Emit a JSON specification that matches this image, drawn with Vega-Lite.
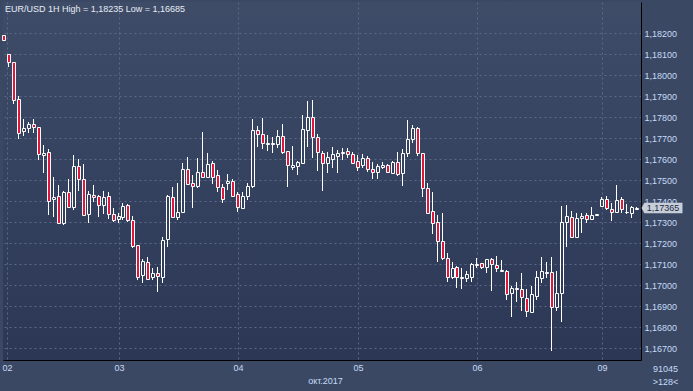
{
"$schema": "https://vega.github.io/schema/vega-lite/v6.json",
"width": 638, "height": 358,
"autosize": "none",
"padding": {"left": 3, "top": 2, "right": 52, "bottom": 31},
"background": "#3b4864",
"view": {"stroke": null, "fill": {"gradient": "linear", "x1": 0, "y1": 0, "x2": 0, "y2": 1, "stops": [{"offset": 0, "color": "#3f4c68"}, {"offset": 0.5, "color": "#35425f"}, {"offset": 1, "color": "#2b3754"}]}},
"config": {"font": "Liberation Sans",
  "locale": {"number": {"decimal": ",", "thousands": " ", "grouping": [3], "currency": ["", ""]}},
  "axis": {"zindex": 0, "ticks": false, "labelPadding": 3, "labelFont": "Liberation Sans", "labelFontSize": 9, "labelColor": "#c6dbf6",
    "domainColor": "#000000", "domainWidth": 1, "grid": true, "gridColor": "#5a6889", "gridDash": [2, 3], "gridWidth": 1,
    "titleFont": "Liberation Sans", "titleFontSize": 9, "titleFontWeight": "normal", "titleColor": "#c6dbf6",
    "labelFlush": false, "labelOverlap": false, "labelBound": false}},
"title": {"text": "EUR/USD 1H High = 1,18235 Low = 1,16685", "anchor": "start", "frame": "group", "orient": "top", "offset": -16, "dx": 2, "baseline": "middle", "font": "Liberation Sans", "fontSize": 9, "fontWeight": "normal", "color": "#e6ecf5"},
"data": {"values": [
{"i":0,"o":1.18189,"h":1.1819,"l":1.18162,"c":1.18167},
{"i":1,"o":1.18099,"h":1.18102,"l":1.1804,"c":1.1806},
{"i":2,"o":1.1806,"h":1.18062,"l":1.1786,"c":1.1788},
{"i":3,"o":1.17884,"h":1.17899,"l":1.17694,"c":1.17725},
{"i":4,"o":1.17732,"h":1.1779,"l":1.1771,"c":1.17746},
{"i":5,"o":1.17746,"h":1.17776,"l":1.17722,"c":1.17765},
{"i":6,"o":1.17765,"h":1.1779,"l":1.17722,"c":1.17751},
{"i":7,"o":1.17751,"h":1.17752,"l":1.17595,"c":1.17622},
{"i":8,"o":1.17618,"h":1.17667,"l":1.17533,"c":1.17627},
{"i":9,"o":1.17632,"h":1.17648,"l":1.17333,"c":1.17401},
{"i":10,"o":1.17408,"h":1.17516,"l":1.17322,"c":1.17418},
{"i":11,"o":1.17422,"h":1.17476,"l":1.17293,"c":1.17294},
{"i":12,"o":1.17295,"h":1.17449,"l":1.17286,"c":1.17443},
{"i":13,"o":1.17441,"h":1.17505,"l":1.17365,"c":1.1737},
{"i":14,"o":1.17373,"h":1.1762,"l":1.17357,"c":1.17567},
{"i":15,"o":1.17567,"h":1.176,"l":1.17449,"c":1.17503},
{"i":16,"o":1.17503,"h":1.17576,"l":1.17329,"c":1.17335},
{"i":17,"o":1.17338,"h":1.17449,"l":1.17294,"c":1.17433},
{"i":18,"o":1.17427,"h":1.17476,"l":1.17395,"c":1.17418},
{"i":19,"o":1.17424,"h":1.17429,"l":1.17322,"c":1.17381},
{"i":20,"o":1.1738,"h":1.17449,"l":1.17338,"c":1.17418},
{"i":21,"o":1.17422,"h":1.17444,"l":1.17316,"c":1.17338},
{"i":22,"o":1.17338,"h":1.17367,"l":1.17301,"c":1.1731},
{"i":23,"o":1.17313,"h":1.17344,"l":1.17294,"c":1.17327},
{"i":24,"o":1.17325,"h":1.17392,"l":1.1731,"c":1.17376},
{"i":25,"o":1.1738,"h":1.17386,"l":1.17301,"c":1.1731},
{"i":26,"o":1.1731,"h":1.17329,"l":1.17175,"c":1.17186},
{"i":27,"o":1.1719,"h":1.1719,"l":1.17024,"c":1.1704},
{"i":28,"o":1.17048,"h":1.17122,"l":1.17008,"c":1.17113},
{"i":29,"o":1.17108,"h":1.17135,"l":1.17024,"c":1.1703},
{"i":30,"o":1.17037,"h":1.1708,"l":1.17024,"c":1.17057},
{"i":31,"o":1.17057,"h":1.17087,"l":1.16965,"c":1.17043},
{"i":32,"o":1.1704,"h":1.1723,"l":1.17011,"c":1.17214},
{"i":33,"o":1.17218,"h":1.17429,"l":1.17182,"c":1.17424},
{"i":34,"o":1.17419,"h":1.17468,"l":1.17318,"c":1.17322},
{"i":35,"o":1.17322,"h":1.17487,"l":1.1731,"c":1.17346},
{"i":36,"o":1.17346,"h":1.17582,"l":1.17341,"c":1.17552},
{"i":37,"o":1.17552,"h":1.17611,"l":1.17476,"c":1.17482},
{"i":38,"o":1.17484,"h":1.17524,"l":1.17368,"c":1.17473},
{"i":39,"o":1.17471,"h":1.17603,"l":1.17463,"c":1.17538},
{"i":40,"o":1.17538,"h":1.1773,"l":1.17513,"c":1.17516},
{"i":41,"o":1.17516,"h":1.17627,"l":1.17513,"c":1.17576},
{"i":42,"o":1.17581,"h":1.17592,"l":1.17481,"c":1.17516},
{"i":43,"o":1.17524,"h":1.17548,"l":1.17444,"c":1.17465},
{"i":44,"o":1.17468,"h":1.17481,"l":1.17392,"c":1.17408},
{"i":45,"o":1.17487,"h":1.17529,"l":1.17452,"c":1.17497},
{"i":46,"o":1.17497,"h":1.17503,"l":1.17421,"c":1.17424},
{"i":47,"o":1.17433,"h":1.17444,"l":1.17349,"c":1.1737},
{"i":48,"o":1.17365,"h":1.17444,"l":1.17364,"c":1.17424},
{"i":49,"o":1.17424,"h":1.17484,"l":1.17405,"c":1.17471},
{"i":50,"o":1.17471,"h":1.1779,"l":1.1746,"c":1.17738},
{"i":51,"o":1.17738,"h":1.17759,"l":1.17656,"c":1.17718},
{"i":52,"o":1.17719,"h":1.17795,"l":1.17646,"c":1.17675},
{"i":53,"o":1.17673,"h":1.17714,"l":1.1764,"c":1.17678},
{"i":54,"o":1.17671,"h":1.17706,"l":1.1763,"c":1.17678},
{"i":55,"o":1.17671,"h":1.17738,"l":1.17651,"c":1.1771},
{"i":56,"o":1.1771,"h":1.17767,"l":1.17624,"c":1.17635},
{"i":57,"o":1.17638,"h":1.17638,"l":1.17468,"c":1.1757},
{"i":58,"o":1.17563,"h":1.17662,"l":1.17548,"c":1.1757},
{"i":59,"o":1.17567,"h":1.17592,"l":1.17524,"c":1.17587},
{"i":60,"o":1.17582,"h":1.1781,"l":1.17576,"c":1.17741},
{"i":61,"o":1.17738,"h":1.17876,"l":1.17659,"c":1.17799},
{"i":62,"o":1.17799,"h":1.17881,"l":1.17603,"c":1.17703},
{"i":63,"o":1.17706,"h":1.17719,"l":1.17544,"c":1.17632},
{"i":64,"o":1.17627,"h":1.1764,"l":1.17449,"c":1.17582},
{"i":65,"o":1.17582,"h":1.17635,"l":1.17533,"c":1.17608},
{"i":66,"o":1.17601,"h":1.17656,"l":1.17556,"c":1.17624},
{"i":67,"o":1.17616,"h":1.17643,"l":1.17535,"c":1.1763},
{"i":68,"o":1.1763,"h":1.17651,"l":1.17595,"c":1.17633},
{"i":69,"o":1.17638,"h":1.17651,"l":1.17603,"c":1.17622},
{"i":70,"o":1.17622,"h":1.17635,"l":1.17576,"c":1.17582},
{"i":71,"o":1.17592,"h":1.17619,"l":1.17544,"c":1.17563},
{"i":72,"o":1.1757,"h":1.17624,"l":1.17556,"c":1.17603},
{"i":73,"o":1.17603,"h":1.17616,"l":1.1754,"c":1.17554},
{"i":74,"o":1.17554,"h":1.17586,"l":1.17503,"c":1.17537},
{"i":75,"o":1.17537,"h":1.17576,"l":1.17503,"c":1.17567},
{"i":76,"o":1.17563,"h":1.17584,"l":1.17551,"c":1.1757},
{"i":77,"o":1.1757,"h":1.17576,"l":1.17532,"c":1.1754},
{"i":78,"o":1.17535,"h":1.17592,"l":1.17529,"c":1.17586},
{"i":79,"o":1.17586,"h":1.17633,"l":1.17519,"c":1.1753},
{"i":80,"o":1.17535,"h":1.17646,"l":1.17471,"c":1.1763},
{"i":81,"o":1.17627,"h":1.17786,"l":1.17611,"c":1.17694},
{"i":82,"o":1.17694,"h":1.17762,"l":1.17678,"c":1.17746},
{"i":83,"o":1.17746,"h":1.17754,"l":1.17614,"c":1.17627},
{"i":84,"o":1.17627,"h":1.17629,"l":1.17418,"c":1.1746},
{"i":85,"o":1.1746,"h":1.17484,"l":1.17337,"c":1.17344},
{"i":86,"o":1.17351,"h":1.17444,"l":1.17242,"c":1.17297},
{"i":87,"o":1.17299,"h":1.17333,"l":1.17111,"c":1.17208},
{"i":88,"o":1.17208,"h":1.17341,"l":1.17119,"c":1.1713},
{"i":89,"o":1.17127,"h":1.17151,"l":1.17016,"c":1.1704},
{"i":90,"o":1.1704,"h":1.17108,"l":1.17027,"c":1.1708},
{"i":91,"o":1.17084,"h":1.17092,"l":1.16987,"c":1.17037},
{"i":92,"o":1.17035,"h":1.1708,"l":1.1698,"c":1.17038},
{"i":93,"o":1.17032,"h":1.17068,"l":1.17016,"c":1.17052},
{"i":94,"o":1.1704,"h":1.17106,"l":1.17016,"c":1.171},
{"i":95,"o":1.17097,"h":1.17127,"l":1.1708,"c":1.17101},
{"i":96,"o":1.17103,"h":1.17106,"l":1.17076,"c":1.17084},
{"i":97,"o":1.17087,"h":1.17125,"l":1.17056,"c":1.17122},
{"i":98,"o":1.17122,"h":1.17127,"l":1.16973,"c":1.17099},
{"i":99,"o":1.17095,"h":1.17138,"l":1.17061,"c":1.1708},
{"i":100,"o":1.17065,"h":1.17119,"l":1.17063,"c":1.1707},
{"i":101,"o":1.17067,"h":1.17071,"l":1.16929,"c":1.16956},
{"i":102,"o":1.1696,"h":1.16995,"l":1.16849,"c":1.16984},
{"i":103,"o":1.16981,"h":1.17014,"l":1.1692,"c":1.16986},
{"i":104,"o":1.16979,"h":1.17059,"l":1.16878,"c":1.16944},
{"i":105,"o":1.16938,"h":1.16981,"l":1.16849,"c":1.16878},
{"i":106,"o":1.16873,"h":1.16995,"l":1.16865,"c":1.16957},
{"i":107,"o":1.16949,"h":1.17067,"l":1.16929,"c":1.17037},
{"i":108,"o":1.17032,"h":1.17135,"l":1.17011,"c":1.17067},
{"i":109,"o":1.17056,"h":1.17108,"l":1.17032,"c":1.17061},
{"i":110,"o":1.17061,"h":1.17135,"l":1.16685,"c":1.16894},
{"i":111,"o":1.16897,"h":1.17067,"l":1.16878,"c":1.1696},
{"i":112,"o":1.16963,"h":1.17376,"l":1.16825,"c":1.17299},
{"i":113,"o":1.17301,"h":1.17381,"l":1.1718,"c":1.17329},
{"i":114,"o":1.17322,"h":1.17352,"l":1.17222,"c":1.1723},
{"i":115,"o":1.17227,"h":1.17341,"l":1.17225,"c":1.17318},
{"i":116,"o":1.17318,"h":1.17341,"l":1.17246,"c":1.17329},
{"i":117,"o":1.17332,"h":1.17341,"l":1.17294,"c":1.17316},
{"i":118,"o":1.17316,"h":1.1737,"l":1.1731,"c":1.17332},
{"i":119,"o":1.17335,"h":1.17338,"l":1.17334,"c":1.17337},
{"i":120,"o":1.17378,"h":1.17421,"l":1.1737,"c":1.17408},
{"i":121,"o":1.17408,"h":1.17424,"l":1.17357,"c":1.17368},
{"i":122,"o":1.17362,"h":1.17392,"l":1.17306,"c":1.17346},
{"i":123,"o":1.17349,"h":1.17476,"l":1.17344,"c":1.17405},
{"i":124,"o":1.1741,"h":1.17421,"l":1.17341,"c":1.1736},
{"i":125,"o":1.17346,"h":1.17386,"l":1.17338,"c":1.17349},
{"i":126,"o":1.17341,"h":1.17376,"l":1.17318,"c":1.1737},
{"i":127,"o":1.17363,"h":1.17372,"l":1.17357,"c":1.17365}
]},
"encoding": {
  "x": {"field": "i", "type": "quantitative",
    "scale": {"domain": [-0.1705, 127.813], "nice": false, "zero": false, "round": true, "padding": 0},
    "axis": {"orient": "bottom", "values": [0.7, 23, 47, 71, 95, 120],
      "labelExpr": "datum.value == 23 ? '03' : datum.value == 47 ? '04' : datum.value == 71 ? '05' : datum.value == 95 ? '06' : datum.value == 120 ? '09' : '02'",
      "title": "окт.2017", "titleX": 322, "titleY": 20, "titleBaseline": "middle", "titleAlign": "center"}}
},
"layer": [
  {"mark": {"type": "rule", "color": "#ffffff", "strokeWidth": 1, "xOffset": -0.5},
   "transform": [{"filter": "datum.c < datum.o"}],
   "encoding": {
     "y": {"field": "h", "type": "quantitative", "scale": {"domain": [1.16642857, 1.18347619], "nice": false, "zero": false, "round": true, "padding": 0},
       "axis": {"orient": "right", "values": [1.167, 1.168, 1.169, 1.17, 1.171, 1.172, 1.173, 1.174, 1.175, 1.176, 1.177, 1.178, 1.179, 1.18, 1.181, 1.182], "format": ".5f", "title": ["91045", ">128<"], "titleAngle": 0, "titleX": 24, "titleY": 366, "titleAlign": "center", "titleBaseline": "middle", "titleLineHeight": 13}},
     "y2": {"field": "o"}}},
  {"mark": {"type": "rule", "color": "#ffffff", "strokeWidth": 1, "xOffset": -0.5},
   "transform": [{"filter": "datum.c < datum.o"}],
   "encoding": {
     "y": {"field": "c", "type": "quantitative", "scale": {"domain": [1.16642857, 1.18347619], "nice": false, "zero": false, "round": true, "padding": 0},
       "axis": {"orient": "right", "values": [1.167, 1.168, 1.169, 1.17, 1.171, 1.172, 1.173, 1.174, 1.175, 1.176, 1.177, 1.178, 1.179, 1.18, 1.181, 1.182], "format": ".5f", "title": ["91045", ">128<"], "titleAngle": 0, "titleX": 24, "titleY": 366, "titleAlign": "center", "titleBaseline": "middle", "titleLineHeight": 13}},
     "y2": {"field": "l"}}},
  {"mark": {"type": "bar", "width": 3, "fill": "#e0173c", "stroke": "#ffffff", "strokeWidth": 1, "yOffset": 0.5, "y2Offset": 0.5},
   "transform": [{"filter": "datum.c < datum.o"}],
   "encoding": {
     "y": {"field": "o", "type": "quantitative", "scale": {"domain": [1.16642857, 1.18347619], "nice": false, "zero": false, "round": true, "padding": 0},
       "axis": {"orient": "right", "values": [1.167, 1.168, 1.169, 1.17, 1.171, 1.172, 1.173, 1.174, 1.175, 1.176, 1.177, 1.178, 1.179, 1.18, 1.181, 1.182], "format": ".5f", "title": ["91045", ">128<"], "titleAngle": 0, "titleX": 24, "titleY": 366, "titleAlign": "center", "titleBaseline": "middle", "titleLineHeight": 13}},
     "y2": {"field": "c"}}},
  {"mark": {"type": "rule", "color": "#ffffff", "strokeWidth": 1, "xOffset": -0.5},
   "transform": [{"filter": "datum.c >= datum.o"}],
   "encoding": {
     "y": {"field": "h", "type": "quantitative", "scale": {"domain": [1.16642857, 1.18347619], "nice": false, "zero": false, "round": true, "padding": 0},
       "axis": {"orient": "right", "values": [1.167, 1.168, 1.169, 1.17, 1.171, 1.172, 1.173, 1.174, 1.175, 1.176, 1.177, 1.178, 1.179, 1.18, 1.181, 1.182], "format": ".5f", "title": ["91045", ">128<"], "titleAngle": 0, "titleX": 24, "titleY": 366, "titleAlign": "center", "titleBaseline": "middle", "titleLineHeight": 13}},
     "y2": {"field": "c"}}},
  {"mark": {"type": "rule", "color": "#ffffff", "strokeWidth": 1, "xOffset": -0.5},
   "transform": [{"filter": "datum.c >= datum.o"}],
   "encoding": {
     "y": {"field": "o", "type": "quantitative", "scale": {"domain": [1.16642857, 1.18347619], "nice": false, "zero": false, "round": true, "padding": 0},
       "axis": {"orient": "right", "values": [1.167, 1.168, 1.169, 1.17, 1.171, 1.172, 1.173, 1.174, 1.175, 1.176, 1.177, 1.178, 1.179, 1.18, 1.181, 1.182], "format": ".5f", "title": ["91045", ">128<"], "titleAngle": 0, "titleX": 24, "titleY": 366, "titleAlign": "center", "titleBaseline": "middle", "titleLineHeight": 13}},
     "y2": {"field": "l"}}},
  {"mark": {"type": "bar", "width": 3, "fill": "transparent", "stroke": "#ffffff", "strokeWidth": 1, "yOffset": 0.5, "y2Offset": 0.5},
   "transform": [{"filter": "datum.c >= datum.o"}],
   "encoding": {
     "y": {"field": "o", "type": "quantitative", "scale": {"domain": [1.16642857, 1.18347619], "nice": false, "zero": false, "round": true, "padding": 0},
       "axis": {"orient": "right", "values": [1.167, 1.168, 1.169, 1.17, 1.171, 1.172, 1.173, 1.174, 1.175, 1.176, 1.177, 1.178, 1.179, 1.18, 1.181, 1.182], "format": ".5f", "title": ["91045", ">128<"], "titleAngle": 0, "titleX": 24, "titleY": 366, "titleAlign": "center", "titleBaseline": "middle", "titleLineHeight": 13}},
     "y2": {"field": "c"}}},
  {"data": {"values": [{"p": 1.17365, "t": "1,17365", "k": 132.03}]},
   "mark": {"type": "point", "shape": "M-1,0 L-0.86,-0.26 L1,-0.26 L1,0.26 L-0.86,0.26 Z", "size": 1681, "filled": true, "fill": "#c8ced8", "strokeWidth": 0, "opacity": 1, "zindex": 2},
   "encoding": {
     "x": {"field": "k", "type": "quantitative", "scale": {"domain": [-0.1705, 127.813], "nice": false, "zero": false, "round": true, "padding": 0},
       "axis": {"orient": "bottom", "values": [0.7, 23, 47, 71, 95, 120],
         "labelExpr": "datum.value == 23 ? '03' : datum.value == 47 ? '04' : datum.value == 71 ? '05' : datum.value == 95 ? '06' : datum.value == 120 ? '09' : '02'",
         "title": "окт.2017", "titleX": 322, "titleY": 20, "titleBaseline": "middle", "titleAlign": "center"}},
     "y": {"field": "p", "type": "quantitative", "scale": {"domain": [1.16642857, 1.18347619], "nice": false, "zero": false, "round": true, "padding": 0},
       "axis": {"orient": "right", "values": [1.167, 1.168, 1.169, 1.17, 1.171, 1.172, 1.173, 1.174, 1.175, 1.176, 1.177, 1.178, 1.179, 1.18, 1.181, 1.182], "format": ".5f", "title": ["91045", ">128<"], "titleAngle": 0, "titleX": 24, "titleY": 366, "titleAlign": "center", "titleBaseline": "middle", "titleLineHeight": 13}}}},
  {"data": {"values": [{"p": 1.17365, "t": "1,17365", "k": 132.03}]},
   "mark": {"type": "text", "font": "Liberation Sans", "fontSize": 9, "color": "#1c2a44", "align": "center", "baseline": "middle", "dx": 1, "zindex": 3},
   "encoding": {
     "x": {"field": "k", "type": "quantitative", "scale": {"domain": [-0.1705, 127.813], "nice": false, "zero": false, "round": true, "padding": 0},
       "axis": {"orient": "bottom", "values": [0.7, 23, 47, 71, 95, 120],
         "labelExpr": "datum.value == 23 ? '03' : datum.value == 47 ? '04' : datum.value == 71 ? '05' : datum.value == 95 ? '06' : datum.value == 120 ? '09' : '02'",
         "title": "окт.2017", "titleX": 322, "titleY": 20, "titleBaseline": "middle", "titleAlign": "center"}},
     "y": {"field": "p", "type": "quantitative", "scale": {"domain": [1.16642857, 1.18347619], "nice": false, "zero": false, "round": true, "padding": 0},
       "axis": {"orient": "right", "values": [1.167, 1.168, 1.169, 1.17, 1.171, 1.172, 1.173, 1.174, 1.175, 1.176, 1.177, 1.178, 1.179, 1.18, 1.181, 1.182], "format": ".5f", "title": ["91045", ">128<"], "titleAngle": 0, "titleX": 24, "titleY": 366, "titleAlign": "center", "titleBaseline": "middle", "titleLineHeight": 13}},
     "text": {"field": "t"}}}
]
}
